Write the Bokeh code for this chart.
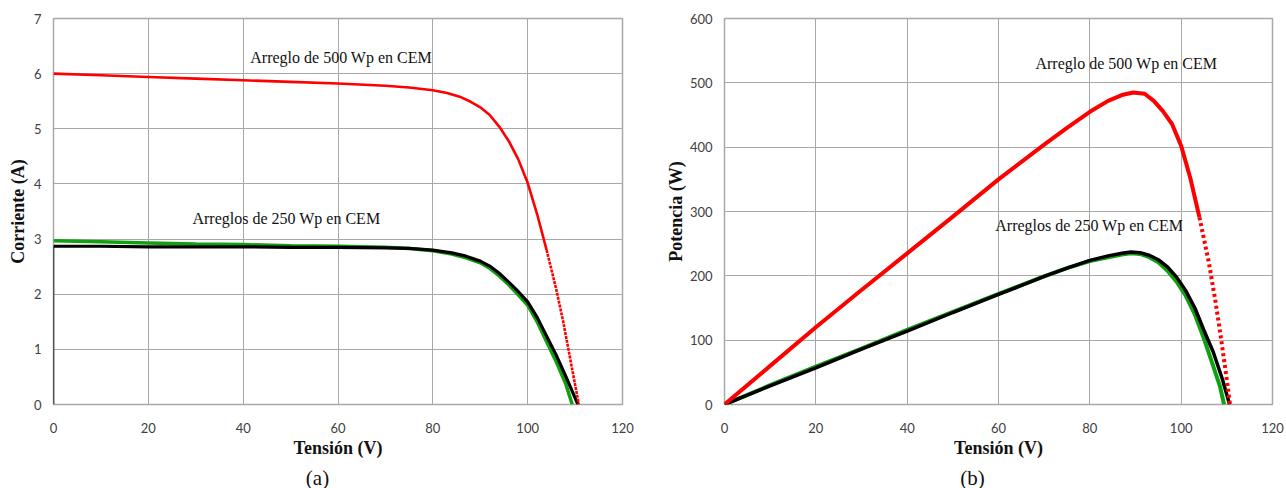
from bokeh.plotting import figure
from bokeh.layouts import row, column
from bokeh.models import Label
from bokeh.embed import file_html
from bokeh.resources import INLINE

# ---------------- data ----------------
x_ticks = [0, 20, 40, 60, 80, 100, 120]
i_ticks = [0, 1, 2, 3, 4, 5, 6, 7]
p_ticks = [0, 100, 200, 300, 400, 500, 600]

# I-V, 500 Wp array (red)
v_500_iv = [0, 10, 20, 30, 40, 50, 60, 70, 75, 80, 83, 86, 88, 90, 92, 94, 96, 98, 100, 102, 104, 106, 107.5, 108.6, 109.8, 110.8]
i_500 = [6.00, 5.97, 5.94, 5.91, 5.88, 5.85, 5.82, 5.78, 5.75, 5.70, 5.65, 5.57, 5.49, 5.39, 5.25, 5.04, 4.78, 4.45, 4.02, 3.45, 2.80, 2.10, 1.50, 1.00, 0.45, 0.0]

# I-V, 250 Wp arrays (black and green)
v_250b_iv = [0, 0, 10, 20, 30, 40, 50, 60, 70, 75, 80, 84, 87, 90, 92, 94, 96, 98, 100, 102, 104, 106, 108, 109.5, 110.6]
i_250b = [0.0, 2.87, 2.87, 2.86, 2.86, 2.86, 2.85, 2.85, 2.84, 2.83, 2.80, 2.75, 2.69, 2.60, 2.51, 2.38, 2.22, 2.05, 1.86, 1.58, 1.24, 0.90, 0.52, 0.22, 0.0]
v_250g_iv = [0, 10, 20, 30, 40, 50, 60, 70, 75, 80, 84, 87, 90, 92, 94, 96, 98, 100, 102, 104, 106, 108, 109.4]
i_250g = [2.97, 2.95, 2.93, 2.91, 2.90, 2.88, 2.87, 2.85, 2.83, 2.79, 2.73, 2.66, 2.57, 2.47, 2.33, 2.17, 1.99, 1.80, 1.50, 1.14, 0.78, 0.38, 0.0]

# P-V, 500 Wp array (red)
v_500_pv = [0, 10, 20, 30, 40, 50, 60, 70, 75, 80, 84, 87, 89.5, 92, 94, 96, 98, 100, 102, 104, 106, 107.5, 108.6, 109.8, 110.7]
p_500 = [0, 60, 120, 178, 235, 292, 350, 404, 430, 455, 472, 481, 485, 483, 472, 456, 436, 402, 352, 291, 223, 161, 109, 49, 0]

# P-V, 250 Wp arrays (black and green)
v_250b_pv = [0, 10, 20, 30, 40, 50, 60, 70, 75, 80, 84, 87, 89, 91, 93, 95, 97, 99, 101, 103, 105, 107, 109, 110.6]
p_250b = [0, 29, 57, 86, 114, 143, 171, 199, 212, 224, 231, 235, 237, 236, 232, 225, 214, 198, 177, 150, 115, 82, 40, 0]
v_250g_pv = [0, 10, 20, 30, 40, 50, 60, 70, 75, 80, 84, 87, 89, 91, 93, 95, 97, 99, 101, 103, 105, 107, 108.5, 109.4]
p_250g = [0, 30, 59, 87, 116, 144, 172, 199, 212, 223, 229, 233, 235, 234, 229, 221, 208, 191, 169, 140, 102, 60, 28, 0]

label_500 = "Arreglo  de 500  Wp en CEM"
label_250 = "Arreglos  de 250  Wp en CEM"
captions = ["(a)", "(b)"]

# ---------------- styles ----------------
RED = "#ff0000"
GREEN = "#11a011"
GRID = "#a8a8a8"
TICK_FONT = "Lato"
SERIF = "Liberation Serif"


def style(p, xlabel, ylabel, yticks):
    p.xaxis.ticker = x_ticks
    p.yaxis.ticker = yticks
    for ax in (p.xaxis[0], p.yaxis[0]):
        ax.axis_line_color = None
        ax.major_tick_line_color = None
        ax.minor_tick_line_color = None
        ax.major_tick_out = 0
        ax.major_tick_in = 0
        ax.minor_tick_out = 0
        ax.major_label_text_font = TICK_FONT
        ax.major_label_text_font_size = "13px"
        ax.major_label_text_color = "#404040"
        ax.major_label_standoff = 12
        ax.axis_label_text_font = SERIF
        ax.axis_label_text_font_size = "18px"
        ax.axis_label_text_font_style = "bold"
        ax.axis_label_text_color = "#111111"
    p.xaxis.axis_label = xlabel
    p.yaxis.axis_label = ylabel
    p.xaxis.major_label_standoff = 18
    p.xaxis.axis_label_standoff = 2
    p.yaxis.axis_label_standoff = 3
    p.xgrid.grid_line_color = GRID
    p.ygrid.grid_line_color = GRID
    p.xgrid.ticker = x_ticks
    p.ygrid.ticker = yticks
    p.outline_line_color = GRID
    p.outline_line_width = 1.5
    p.background_fill_color = "white"
    p.border_fill_color = "white"


def split(xs, ys, xcut):
    a_x = [x for x in xs if x <= xcut]
    a_y = ys[:len(a_x)]
    b_x = xs[len(a_x) - 1:]
    b_y = ys[len(a_x) - 1:]
    return a_x, a_y, b_x, b_y


H = 462

# ---------------- (a) I-V ----------------
pa = figure(width=660, height=H, x_range=(0, 120), y_range=(0, 7),
            output_backend="svg", toolbar_location=None,
            min_border_left=53, min_border_right=38, min_border_top=18, min_border_bottom=H - 404)
style(pa, "Tensión (V)", "Corriente (A)", i_ticks)

pa.line(v_250g_iv, i_250g, line_color=GREEN, line_width=3.5)
pa.line(v_250b_iv[:2], i_250b[:2], line_color="black", line_width=1.5)
pa.line(v_250b_iv[1:], i_250b[1:], line_color="black", line_width=3.2)
ax_, ay_, bx_, by_ = split(v_500_iv, i_500, 104)
pa.line(ax_, ay_, line_color=RED, line_width=2.6)
pa.line(bx_, by_, line_color=RED, line_width=2.6, line_dash="3 1")

pa.add_layout(Label(x=41.5, y=6.29, text=label_500, text_font=SERIF, text_font_size="16px",
                    text_baseline="middle", text_color="#111111"))
pa.add_layout(Label(x=29.3, y=3.37, text=label_250, text_font=SERIF, text_font_size="16px",
                    text_baseline="middle", text_color="#111111"))

# ---------------- (b) P-V ----------------
pb = figure(width=626, height=H, x_range=(0, 120), y_range=(0, 600),
            output_backend="svg", toolbar_location=None,
            min_border_left=64, min_border_right=14, min_border_top=18, min_border_bottom=H - 405)
style(pb, "Tensión (V)", "Potencia (W)", p_ticks)
pb.yaxis.axis_label_standoff = 1

pb.line(v_250g_pv, p_250g, line_color=GREEN, line_width=4)
pb.line(v_250b_pv, p_250b, line_color="black", line_width=3.5)
cx, cy, dx, dy = split(v_500_pv, p_500, 104)
pb.line(cx, cy, line_color=RED, line_width=4)
pb.line(dx, dy, line_color=RED, line_width=4, line_dash="3 3")

pb.add_layout(Label(x=68.1, y=530, text=label_500, text_font=SERIF, text_font_size="16px",
                    text_baseline="middle", text_color="#111111"))
pb.add_layout(Label(x=59.3, y=279, text=label_250, text_font=SERIF, text_font_size="16px",
                    text_baseline="middle", text_color="#111111"))

# ---------------- captions strip ----------------
SH = 488 - H
pc = figure(width=1286, height=SH, x_range=(0, 1286), y_range=(0, SH),
            output_backend="svg", toolbar_location=None, x_axis_type=None, y_axis_type=None,
            min_border=0)
pc.outline_line_color = None
pc.xgrid.visible = False
pc.ygrid.visible = False
pc.text(x=[317, 972], y=[SH - 15, SH - 15], text=captions, text_font={"value": SERIF}, text_font_size="21px",
        text_align="center", text_baseline="middle", text_color="#111111")

layout = column(row(pa, pb), pc)
open("out.html", "w").write(file_html(layout, INLINE))
